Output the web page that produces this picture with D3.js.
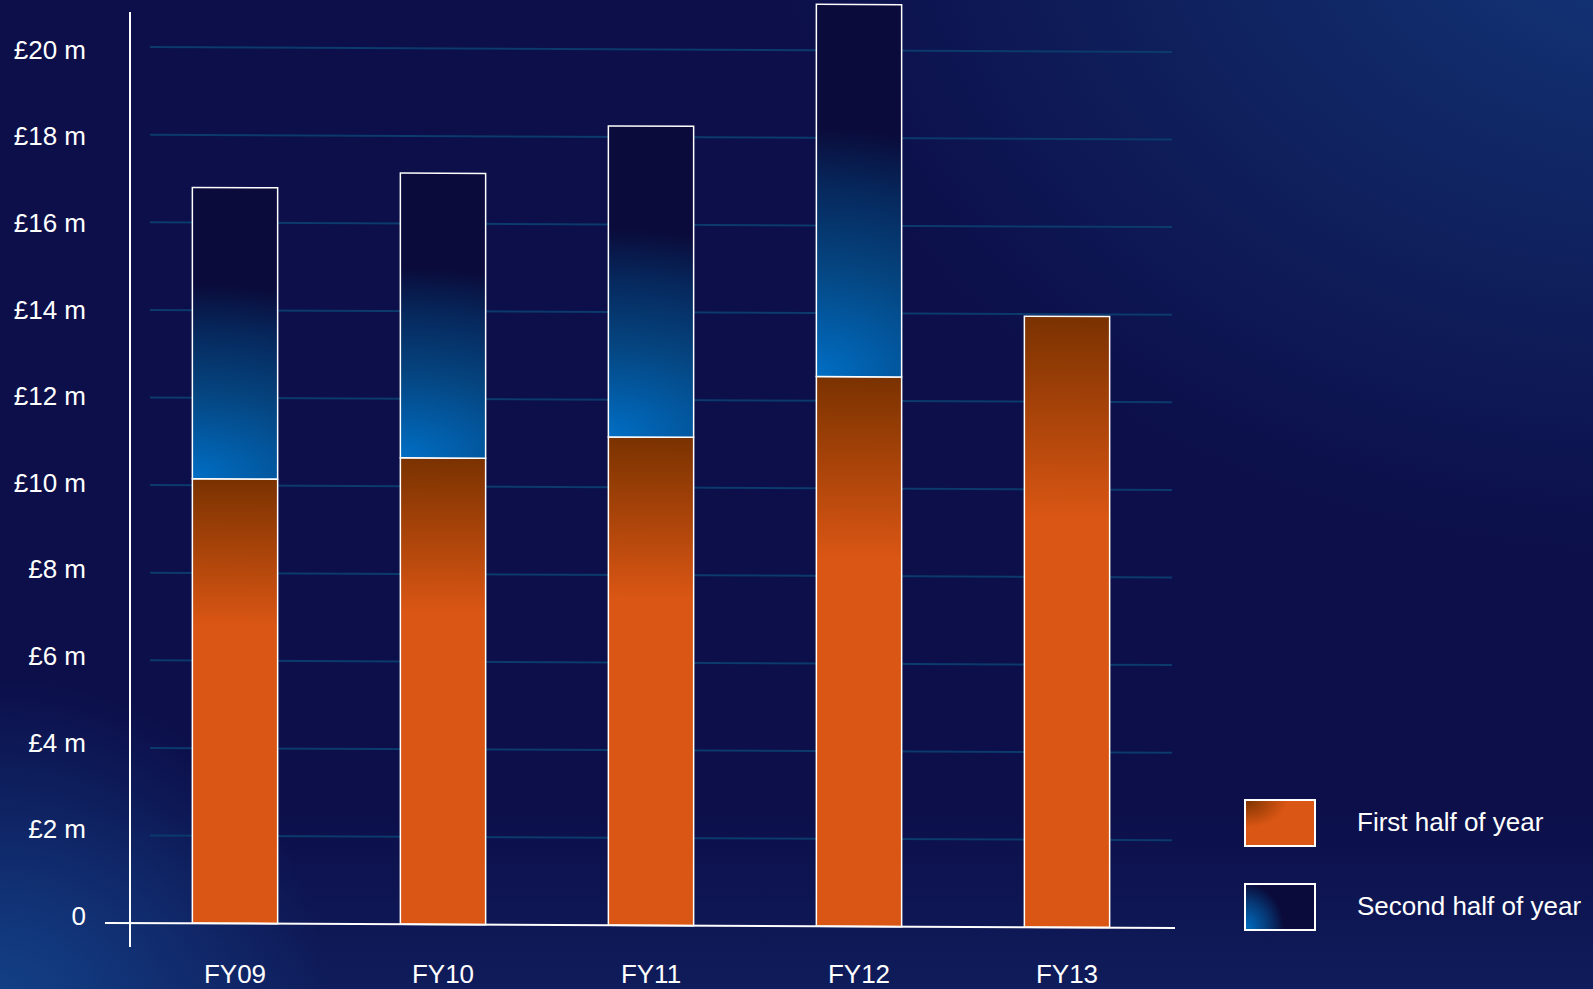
<!DOCTYPE html>
<html>
<head>
<meta charset="utf-8">
<script src="https://cdn.jsdelivr.net/npm/d3@7"></script>
<style>
  html, body { margin: 0; padding: 0; background: #0c0f4a; overflow: hidden; }
  text { font-family: "Liberation Sans", Arial, sans-serif; fill: #ffffff; }
</style>
</head>
<body>
<div id="chart"></div>
<script>
// data (£ millions)
const years = ["FY09", "FY10", "FY11", "FY12", "FY13"];
const firstHalf = [10.15, 10.65, 11.15, 12.55, 13.95];
const secondHalf = [6.65, 6.5, 7.1, 8.5, 0];
const seriesNames = ["First half of year", "Second half of year"];
const tickValues = [0, 2, 4, 6, 8, 10, 12, 14, 16, 18, 20];

const width = 1593, height = 989;
const axisX = 130, baseY = 923;

const svg = d3.select("#chart").append("svg")
    .attr("width", width)
    .attr("height", height);

const defs = svg.append("defs");

// background glows
const bgTR = defs.append("radialGradient").attr("id", "bgTR")
    .attr("gradientUnits", "userSpaceOnUse")
    .attr("cx", width + 80).attr("cy", -120).attr("r", 900)
    .attr("gradientTransform", `translate(${width + 80},-120) scale(1,0.75) translate(${-width - 80},120)`);
bgTR.append("stop").attr("offset", 0).attr("stop-color", "#143c80").attr("stop-opacity", 1);
bgTR.append("stop").attr("offset", 0.45).attr("stop-color", "#12306f").attr("stop-opacity", 0.7);
bgTR.append("stop").attr("offset", 1).attr("stop-color", "#12306f").attr("stop-opacity", 0);

const bgBL = defs.append("radialGradient").attr("id", "bgBL")
    .attr("gradientUnits", "userSpaceOnUse")
    .attr("cx", 0).attr("cy", height + 20).attr("r", 330);
bgBL.append("stop").attr("offset", 0).attr("stop-color", "#13438a").attr("stop-opacity", 0.95);
bgBL.append("stop").attr("offset", 1).attr("stop-color", "#13438a").attr("stop-opacity", 0);

const bgBot = defs.append("linearGradient").attr("id", "bgBot")
    .attr("x1", 0).attr("y1", 0).attr("x2", 0).attr("y2", 1);
bgBot.append("stop").attr("offset", 0.82).attr("stop-color", "#16357a").attr("stop-opacity", 0);
bgBot.append("stop").attr("offset", 1).attr("stop-color", "#16357a").attr("stop-opacity", 0.35);

// bar fills
const gFirst = defs.append("linearGradient").attr("id", "gFirst")
    .attr("x1", 0).attr("y1", 0).attr("x2", 0).attr("y2", 1);
gFirst.append("stop").attr("offset", 0).attr("stop-color", "#7a3200");
gFirst.append("stop").attr("offset", 0.33).attr("stop-color", "#da5614");
gFirst.append("stop").attr("offset", 1).attr("stop-color", "#da5614");

const gSecond = defs.append("radialGradient").attr("id", "gSecond")
    .attr("cx", 0).attr("cy", 1).attr("r", 1)
    .attr("gradientTransform", "scale(6,1)");
gSecond.append("stop").attr("offset", 0).attr("stop-color", "#006ec4");
gSecond.append("stop").attr("offset", 0.3).attr("stop-color", "#05447f");
gSecond.append("stop").attr("offset", 0.5).attr("stop-color", "#06295e");
gSecond.append("stop").attr("offset", 0.67).attr("stop-color", "#0a0b3a");
gSecond.append("stop").attr("offset", 1).attr("stop-color", "#0a0b3a");

const lFirst = defs.append("radialGradient").attr("id", "lFirst")
    .attr("cx", 0).attr("cy", 0).attr("r", 1);
lFirst.append("stop").attr("offset", 0).attr("stop-color", "#7a3200");
lFirst.append("stop").attr("offset", 0.6).attr("stop-color", "#da5614");
lFirst.append("stop").attr("offset", 1).attr("stop-color", "#da5614");

const lSecond = defs.append("radialGradient").attr("id", "lSecond")
    .attr("cx", 0).attr("cy", 1).attr("r", 1.2)
    .attr("gradientTransform", "scale(0.55,1)");
lSecond.append("stop").attr("offset", 0).attr("stop-color", "#0072c8");
lSecond.append("stop").attr("offset", 0.5).attr("stop-color", "#063a78");
lSecond.append("stop").attr("offset", 0.85).attr("stop-color", "#0a0b3a");
lSecond.append("stop").attr("offset", 1).attr("stop-color", "#0a0b3a");

svg.append("rect").attr("width", width).attr("height", height).attr("fill", "#0c0f4a");
svg.append("rect").attr("width", width).attr("height", height).attr("fill", "url(#bgBot)");
svg.append("rect").attr("width", width).attr("height", height).attr("fill", "url(#bgTR)");
svg.append("rect").attr("width", width).attr("height", height).attr("fill", "url(#bgBL)");

// scales
const xScale = d3.scaleBand()
    .domain(years)
    .range([131, 1171])
    .paddingInner(0.59)
    .paddingOuter(0.295);

const yScale = d3.scaleLinear()
    .domain([0, 20])
    .range([baseY, 47]);

// tick labels sit a touch off the gridlines in the original
const yLabelScale = d3.scaleLinear()
    .domain([0, 20])
    .range([916, 50]);

// the plot in the original leans very slightly
const plot = svg.append("g")
    .attr("transform", `translate(${axisX},${baseY}) skewY(0.27) translate(${-axisX},${-baseY})`);

// gridlines
plot.append("g")
    .selectAll("line")
    .data(tickValues.filter(d => d > 0))
    .join("line")
      .attr("x1", 150)
      .attr("x2", 1172)
      .attr("y1", d => yScale(d))
      .attr("y2", d => yScale(d))
      .attr("stroke", "#0b3a6c")
      .attr("stroke-width", 2);

const rows = years.map((y, i) => ({year: y, first: firstHalf[i], second: secondHalf[i]}));

// first half
plot.append("g")
    .selectAll("rect")
    .data(rows)
    .join("rect")
      .attr("x", d => xScale(d.year))
      .attr("width", xScale.bandwidth())
      .attr("y", d => yScale(d.first))
      .attr("height", d => yScale(0) - yScale(d.first))
      .attr("fill", "url(#gFirst)")
      .attr("stroke", "#ffffff")
      .attr("stroke-width", 1.5);

// second half stacked on top
plot.append("g")
    .selectAll("rect")
    .data(rows.filter(d => d.second > 0))
    .join("rect")
      .attr("x", d => xScale(d.year))
      .attr("width", xScale.bandwidth())
      .attr("y", d => yScale(d.first + d.second))
      .attr("height", d => yScale(d.first) - yScale(d.first + d.second))
      .attr("fill", "url(#gSecond)")
      .attr("stroke", "#ffffff")
      .attr("stroke-width", 1.5);

// baseline
plot.append("line")
    .attr("x1", 105)
    .attr("x2", 1175)
    .attr("y1", yScale(0))
    .attr("y2", yScale(0))
    .attr("stroke", "#ffffff")
    .attr("stroke-width", 2);

// y axis line
svg.append("line")
    .attr("x1", axisX)
    .attr("x2", axisX)
    .attr("y1", 12)
    .attr("y2", 947)
    .attr("stroke", "#ffffff")
    .attr("stroke-width", 2);

// y tick labels
const yAxis = svg.append("g")
    .attr("transform", "translate(86,0)")
    .call(d3.axisLeft(yLabelScale)
        .tickValues(tickValues)
        .tickSize(0)
        .tickPadding(0)
        .tickFormat(d => d === 0 ? "0" : `£${d} m`));
yAxis.select(".domain").remove();
yAxis.selectAll("text")
    .attr("fill", "#ffffff")
    .attr("font-size", 26)
    .attr("font-family", "Liberation Sans, Arial, sans-serif");

// x labels
const xAxis = svg.append("g")
    .attr("transform", "translate(0,958)")
    .call(d3.axisBottom(xScale).tickSize(0).tickPadding(0));
xAxis.select(".domain").remove();
xAxis.selectAll("text")
    .attr("fill", "#ffffff")
    .attr("font-size", 26)
    .attr("font-family", "Liberation Sans, Arial, sans-serif")
    .attr("dy", "0.95em");

// legend
const legend = svg.append("g");
const legendFills = ["url(#lFirst)", "url(#lSecond)"];
const legendY = d3.scalePoint().domain(seriesNames).range([800, 884]);

legend.selectAll("rect")
    .data(seriesNames)
    .join("rect")
      .attr("x", 1245)
      .attr("y", d => legendY(d))
      .attr("width", 70)
      .attr("height", 46)
      .attr("fill", (d, i) => legendFills[i])
      .attr("stroke", "#ffffff")
      .attr("stroke-width", 2);

legend.selectAll("text")
    .data(seriesNames)
    .join("text")
      .attr("x", 1357)
      .attr("y", d => legendY(d) + 31)
      .attr("font-size", 26)
      .text(d => d);
</script>
</body>
</html>
